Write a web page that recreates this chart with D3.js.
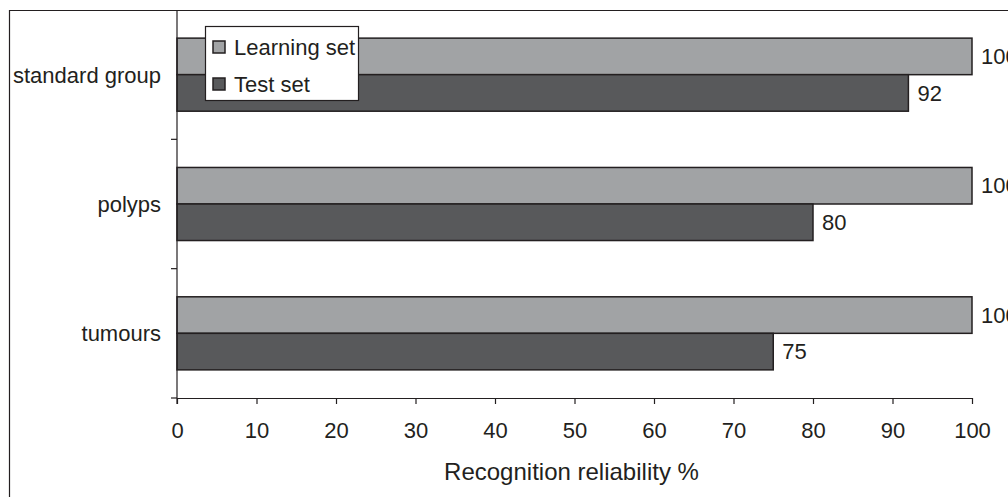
<!DOCTYPE html>
<html>
<head>
<meta charset="utf-8">
<script src="https://cdn.jsdelivr.net/npm/d3@7"></script>
<style>
  html, body { margin: 0; padding: 0; background: #fff; }
  svg { display: block; font-family: "Liberation Sans", Arial, sans-serif; }
</style>
</head>
<body>
<svg id="chart" width="1008" height="497"></svg>
<script>
const categories = ["standard group", "polyps", "tumours"];
const seriesNames = ["Learning set", "Test set"];
const learningSet = [100, 100, 100];
const testSet = [92, 80, 75];
const xTicks = [0, 10, 20, 30, 40, 50, 60, 70, 80, 90, 100];
const xTitle = "Recognition reliability %";

const colors = { "Learning set": "#a1a3a5", "Test set": "#58595b" };
const ink = "#231f20";
const fs = 22;

const svg = d3.select("#chart");
const mLeft = 177, mRight = 972, mTop = 10, mBottom = 398;

// outer frame (left and top edges visible)
svg.append("path")
  .attr("d", `M9.5,497 V10.5 H1008`)
  .attr("fill", "none").attr("stroke", ink).attr("stroke-width", 1.2);

const x = d3.scaleLinear().domain([0, 100]).range([mLeft, mRight]);
const y0 = d3.scaleBand().domain(categories).range([mTop, mBottom]).padding(0);
const y1 = d3.scaleBand().domain(seriesNames).range([0, y0.bandwidth()])
  .paddingInner(0).paddingOuter(0.77);

const data = categories.map((c, i) => ({
  cat: c,
  values: [
    { series: "Learning set", value: learningSet[i] },
    { series: "Test set", value: testSet[i] }
  ]
}));

const groups = svg.append("g").selectAll("g").data(data).join("g")
  .attr("transform", d => `translate(0,${y0(d.cat)})`);

groups.selectAll("rect").data(d => d.values).join("rect")
  .attr("x", x(0))
  .attr("y", d => y1(d.series))
  .attr("width", d => x(d.value) - x(0))
  .attr("height", y1.bandwidth())
  .attr("fill", d => colors[d.series])
  .attr("stroke", ink).attr("stroke-width", 1.5);

groups.selectAll("text.val").data(d => d.values).join("text")
  .attr("class", "val")
  .attr("x", d => x(d.value) + 9)
  .attr("y", d => y1(d.series) + y1.bandwidth() / 2)
  .attr("dy", "0.35em")
  .attr("font-size", fs).attr("fill", ink)
  .text(d => d.value);

// x axis
const xAxis = svg.append("g").attr("transform", `translate(0,${mBottom})`)
  .call(d3.axisBottom(x).tickValues(xTicks).tickSize(6).tickPadding(18).tickSizeOuter(0));
xAxis.select(".domain").attr("stroke", ink).attr("stroke-width", 1.2);
xAxis.selectAll(".tick line").attr("stroke", ink).attr("stroke-width", 1.2);
xAxis.selectAll(".tick text").attr("font-size", fs).attr("fill", ink)
  .attr("font-family", "Liberation Sans, Arial, sans-serif");

// y axis: category separators as ticks
const yAxisG = svg.append("g");
yAxisG.append("line").attr("x1", mLeft).attr("x2", mLeft).attr("y1", mTop).attr("y2", mBottom + 6)
  .attr("stroke", ink).attr("stroke-width", 1.2);
const sepPositions = categories.map(c => y0(c) + y0.bandwidth());
yAxisG.selectAll("line.sep").data(sepPositions).join("line").attr("class", "sep")
  .attr("x1", mLeft - 6).attr("x2", mLeft).attr("y1", d => d).attr("y2", d => d)
  .attr("stroke", ink).attr("stroke-width", 1.2);
yAxisG.selectAll("text").data(categories).join("text")
  .attr("x", mLeft - 16)
  .attr("y", d => y0(d) + y0.bandwidth() / 2)
  .attr("dy", "0.36em")
  .attr("text-anchor", "end")
  .attr("font-size", fs).attr("fill", ink)
  .text(d => d);

// x title
svg.append("text")
  .attr("x", (mLeft + mRight) / 2 - 3)
  .attr("y", 480)
  .attr("text-anchor", "middle")
  .attr("font-size", 24).attr("fill", ink)
  .text(xTitle);

// legend
const lg = svg.append("g");
lg.append("rect").attr("x", 205.5).attr("y", 26.5).attr("width", 153).attr("height", 74)
  .attr("fill", "#fff").attr("stroke", ink).attr("stroke-width", 1.2);
const li = lg.selectAll("g").data(seriesNames).join("g")
  .attr("transform", (d, i) => `translate(213,${47 + i * 37})`);
li.append("rect").attr("x", 0).attr("y", -6).attr("width", 12).attr("height", 12)
  .attr("fill", d => colors[d]).attr("stroke", ink).attr("stroke-width", 1.5);
li.append("text").attr("x", 21).attr("y", 0).attr("dy", "0.35em")
  .attr("font-size", fs).attr("fill", ink).text(d => d);
</script>
</body>
</html>
